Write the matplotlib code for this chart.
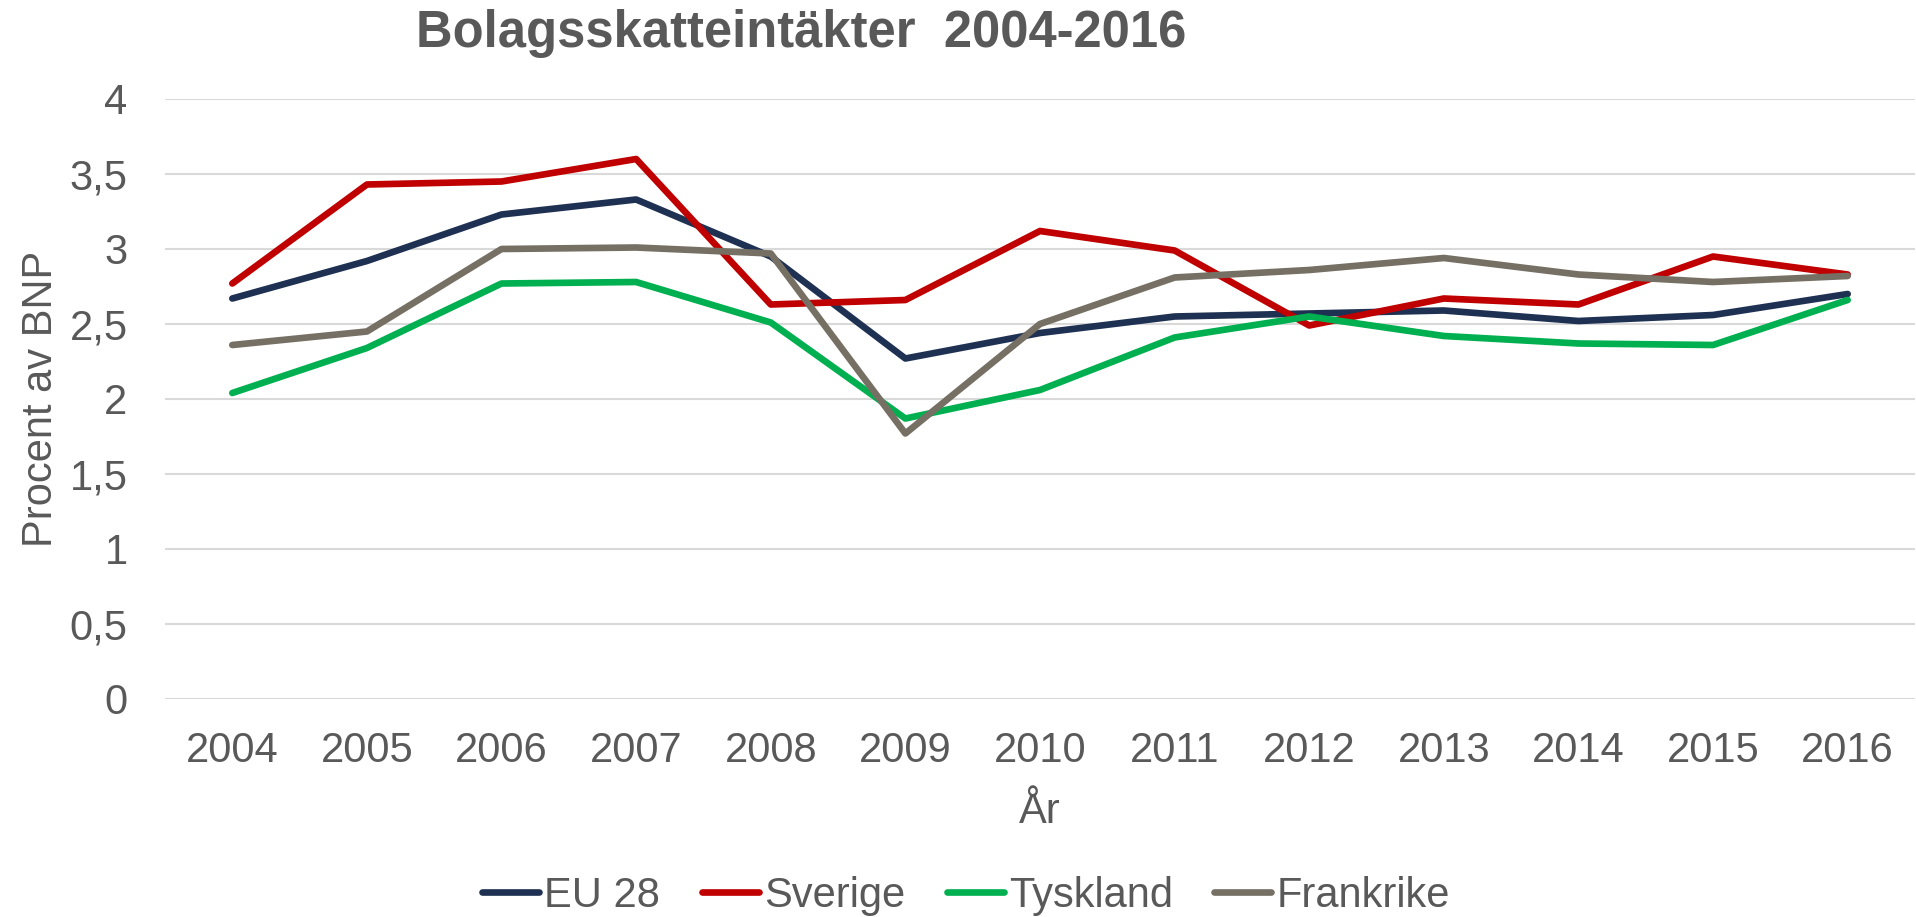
import matplotlib
matplotlib.use("Agg")
from matplotlib import pyplot as plt
from matplotlib.ticker import FuncFormatter

# DATA (procent av BNP)
years = ["2004", "2005", "2006", "2007", "2008", "2009", "2010",
         "2011", "2012", "2013", "2014", "2015", "2016"]
eu28 = [2.67, 2.92, 3.23, 3.33, 2.95, 2.27, 2.44, 2.55, 2.57, 2.59, 2.52, 2.56, 2.70]
sverige = [2.77, 3.43, 3.45, 3.60, 2.63, 2.66, 3.12, 2.99, 2.49, 2.67, 2.63, 2.95, 2.83]
tyskland = [2.04, 2.34, 2.77, 2.78, 2.51, 1.87, 2.06, 2.41, 2.55, 2.42, 2.37, 2.36, 2.66]
frankrike = [2.36, 2.45, 3.00, 3.01, 2.97, 1.77, 2.50, 2.81, 2.86, 2.94, 2.83, 2.78, 2.82]

series_names = ["EU 28", "Sverige", "Tyskland", "Frankrike"]
series_colors = ["#1F3152", "#C00000", "#00B050", "#766F64"]

TEXT_GREY = "#595959"
GRID_GREY = "#D9D9D9"

plt.rcParams['font.family'] = ['Liberation Sans', 'DejaVu Sans']

fig = plt.figure(figsize=(19.16, 9.17), dpi=100)
ax = fig.add_axes([165 / 1916, 1 - 699 / 917, 1750 / 1916, 600 / 917])

x = list(range(len(years)))
for values, name, color in zip([eu28, sverige, tyskland, frankrike], series_names, series_colors):
    ax.plot(x, values, color=color, linewidth=4.8, label=name, solid_capstyle='round', solid_joinstyle='round')

ax.set_xlim(-0.5, len(years) - 0.5)
ax.set_ylim(0, 4)
ax.set_yticks([0, 0.5, 1, 1.5, 2, 2.5, 3, 3.5, 4])
ax.yaxis.set_major_formatter(FuncFormatter(lambda v, p: f"{v:g}".replace(".", ",")))
ax.set_xticks(x)
ax.set_xticklabels(years)

# grid lines only, no frame
ax.grid(axis='y', color=GRID_GREY, linewidth=1.5)
ax.set_axisbelow(True)
for spine in ax.spines.values():
    spine.set_visible(False)
ax.tick_params(axis='both', length=0, labelsize=30, colors=TEXT_GREY)
ax.tick_params(axis='x', pad=23)
ax.tick_params(axis='y', pad=27)

ax.set_xlabel("År", fontsize=30, color=TEXT_GREY, labelpad=15)
ax.set_ylabel("Procent av BNP", fontsize=30, color=TEXT_GREY)
ax.yaxis.set_label_coords((61 - 165) / 1750, 0.5)

fig.text(801 / 1916, 1 - 34 / 917, "Bolagsskatteintäkter  2004-2016", fontsize=36.5, fontweight='bold',
         color=TEXT_GREY, ha='center', va='center')

leg = fig.legend(loc='center', bbox_to_anchor=(966 / 1916, 1 - 896 / 917), ncol=4, frameon=False,
                 fontsize=30, handlelength=1.37, handletextpad=0.12, columnspacing=1.0, borderaxespad=0)
for text in leg.get_texts():
    text.set_color(TEXT_GREY)

plt.savefig("out.png", dpi=100)
